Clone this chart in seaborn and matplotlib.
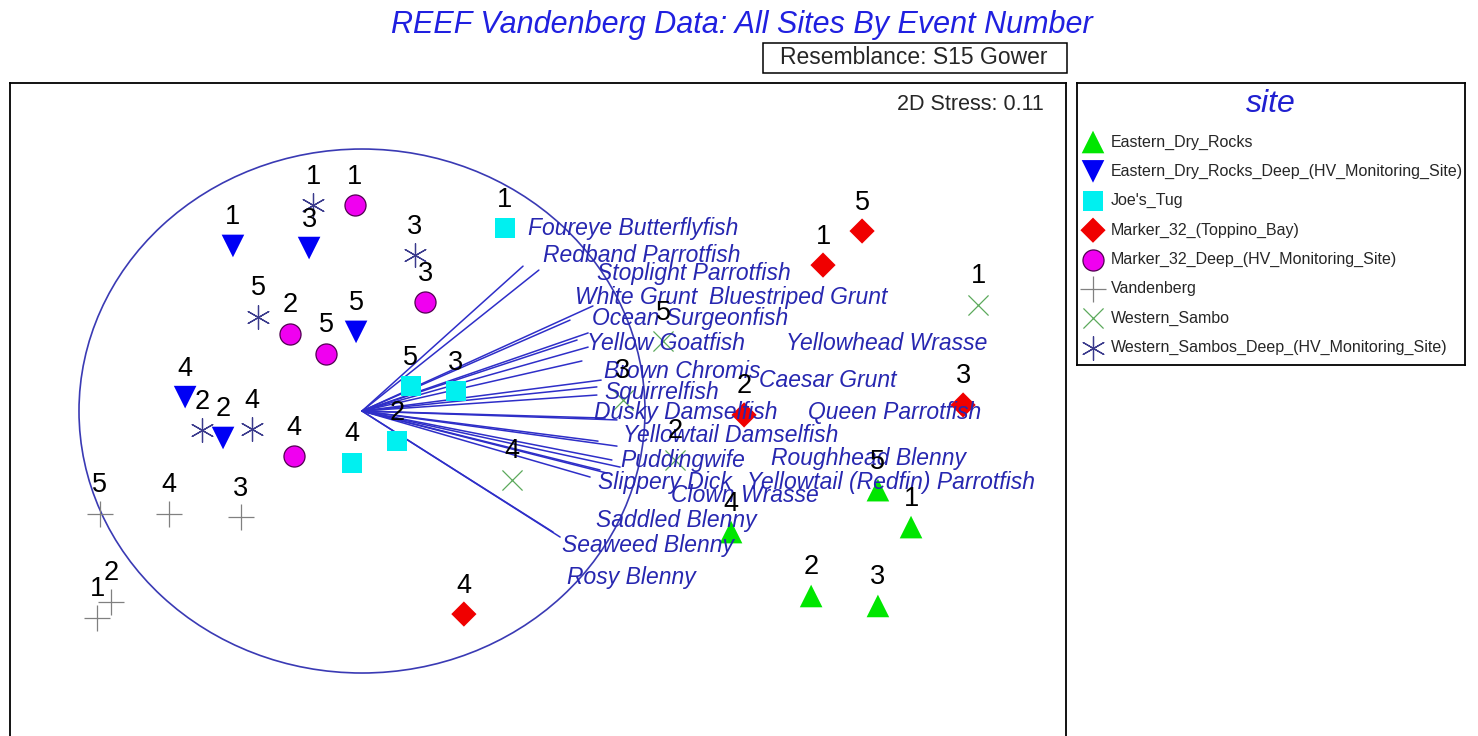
import numpy as np
import pandas as pd
import seaborn as sns
import matplotlib.pyplot as plt
from matplotlib.patches import Ellipse, Rectangle

# -------------------------
# data: nMDS coordinates per site, events 1..5
# -------------------------
events = [1, 2, 3, 4, 5]

edr_x = [1.940, 1.587, 1.823, 1.304, 1.823]
edr_y = [-0.443, -0.706, -0.744, -0.462, -0.302]

edr_deep_x = [-0.456, -0.491, -0.187, -0.625, -0.021]
edr_deep_y = [0.630, -0.103, 0.622, 0.053, 0.302]

joes_x = [0.505, 0.124, 0.332, -0.035, 0.173]
joes_y = [0.698, -0.115, 0.076, -0.198, 0.095]

m32_x = [1.629, 1.350, 2.124, 0.360, 1.767]
m32_y = [0.557, -0.015, 0.023, -0.775, 0.687]

m32_deep_x = [-0.025, -0.254, 0.223, -0.240, -0.127]
m32_deep_y = [0.786, 0.294, 0.416, -0.172, 0.218]

vand_x = [-0.936, -0.887, -0.428, -0.682, -0.926]
vand_y = [-0.790, -0.729, -0.405, -0.393, -0.393]

ws_x = [2.177, 1.106, 0.922, 0.530, 1.064]
ws_y = [0.405, -0.187, 0.042, -0.263, 0.267]

ws_deep_x = [-0.173, -0.565, 0.187, -0.389, -0.367]
ws_deep_y = [0.786, -0.073, 0.595, -0.069, 0.359]

sites = ['Eastern_Dry_Rocks', 'Eastern_Dry_Rocks_Deep_(HV_Monitoring_Site)', "Joe's_Tug",
         'Marker_32_(Toppino_Bay)', 'Marker_32_Deep_(HV_Monitoring_Site)', 'Vandenberg',
         'Western_Sambo', 'Western_Sambos_Deep_(HV_Monitoring_Site)']
site_x = [edr_x, edr_deep_x, joes_x, m32_x, m32_deep_x, vand_x, ws_x, ws_deep_x]
site_y = [edr_y, edr_deep_y, joes_y, m32_y, m32_deep_y, vand_y, ws_y, ws_deep_y]

# species vectors (end points) and where their labels sit
species = ['Foureye Butterflyfish', 'Redband Parrotfish', 'Stoplight Parrotfish', 'White Grunt',
           'Bluestriped Grunt', 'Ocean Surgeonfish', 'Yellow Goatfish', 'Yellowhead Wrasse',
           'Brown Chromis', 'Caesar Grunt', 'Squirrelfish', 'Dusky Damselfish', 'Queen Parrotfish',
           'Yellowtail Damselfish', 'Puddingwife', 'Roughhead Blenny', 'Slippery Dick',
           'Yellowtail (Redfin) Parrotfish', 'Clown Wrasse', 'Saddled Blenny', 'Seaweed Blenny',
           'Rosy Blenny']
vec_x = [0.569, 0.625, 0.816, 0.735, 0.799, 0.760, 0.799, 0.777, 0.845, 0.830, 0.830, 0.901,
         0.859, 0.834, 0.901, 0.912, 0.866, 0.806, 0.841, 0.883, 0.700, 0.675]
vec_y = [0.553, 0.538, 0.401, 0.347, 0.298, 0.271, 0.244, 0.191, 0.118, 0.092, 0.061, -0.034,
         -0.027, -0.115, -0.134, -0.214, -0.237, -0.252, -0.225, -0.187, -0.481, -0.462]
lab_x = [0.587, 0.640, 0.830, 0.753, 1.226, 0.813, 0.795, 1.498, 0.855, 1.403, 0.855, 0.820,
         1.576, 0.922, 0.912, 1.445, 0.834, 1.360, 1.092, 0.827, 0.707, 0.724]
lab_y = [0.698, 0.595, 0.523, 0.435, 0.435, 0.355, 0.256, 0.256, 0.149, 0.115, 0.069, -0.004,
         -0.004, -0.095, -0.187, -0.183, -0.271, -0.271, -0.324, -0.416, -0.515, -0.634]

rows = []
for site, xs, ys in zip(sites, site_x, site_y):
    for ev, x, y in zip(events, xs, ys):
        rows.append({'site': site, 'event': ev, 'MDS1': x, 'MDS2': y})
df = pd.DataFrame(rows)

# -------------------------
# styles
# -------------------------
estilos = {
    'Eastern_Dry_Rocks': dict(marker='^', color='#00e600', s=265, edgecolor='none'),
    'Eastern_Dry_Rocks_Deep_(HV_Monitoring_Site)': dict(marker='v', color='#0000f5', s=265, edgecolor='none'),
    "Joe's_Tug": dict(marker='s', color='#00f0f0', s=205, edgecolor='none'),
    'Marker_32_(Toppino_Bay)': dict(marker='D', color='#f00000', s=165, edgecolor='none'),
    'Marker_32_Deep_(HV_Monitoring_Site)': dict(marker='o', color='#f000f0', s=230,
                                                edgecolor='#500050', linewidth=0.9),
    'Vandenberg': dict(marker='+', color='#808080', s=360, linewidth=0.9),
    'Western_Sambo': dict(marker='x', color='#5caa5c', s=210, linewidth=0.9),
    'Western_Sambos_Deep_(HV_Monitoring_Site)': dict(marker=(6, 2, 0), color='#3a3a8c', s=290, linewidth=0.9),
}

sns.set_style("white")
plt.rcParams['font.family'] = ['Liberation Sans', 'DejaVu Sans']

W, H = 1478, 736
fig = plt.figure(figsize=(W / 100, H / 100), dpi=100)
ax = fig.add_axes([10 / W, -24 / H, 1056 / W, 677 / H])

# vectors + circle
for vx, vy in zip(vec_x, vec_y):
    ax.plot([0, vx], [0, vy], color='#2e2ec8', lw=1.1, zorder=2)
ax.add_patch(Ellipse((0, 0), 2, 2, fill=False, ec='#3a3ab4', lw=1.2, zorder=2))

# points
for site in sites:
    sub = df[df['site'] == site]
    sns.scatterplot(data=sub, x='MDS1', y='MDS2', ax=ax, legend=False, zorder=3, **estilos[site])
    for _, r in sub.iterrows():
        ax.annotate(str(r['event']), (r['MDS1'], r['MDS2']), xytext=(0, 15.5),
                    textcoords='offset points', ha='center', va='baseline',
                    fontsize=19.5, color='black', zorder=5)

for name, lx, ly in zip(species, lab_x, lab_y):
    ax.text(lx, ly, name, ha='left', va='center', fontsize=16.5, style='italic',
            color='#2727b0', zorder=4)

ax.set_xlim(-1.2438, 2.4876)
ax.set_ylim(-1.332, 1.252)
ax.set_xticks([])
ax.set_yticks([])
ax.set_xlabel('')
ax.set_ylabel('')
for sp in ax.spines.values():
    sp.set_color('black')
    sp.set_linewidth(1.3)

# titles / annotations
fig.text(742 / W, 1 - 25 / H, 'REEF Vandenberg Data: All Sites By Event Number',
         ha='center', va='center', fontsize=22, style='italic', color='#2020e0')
fig.patches.append(Rectangle((763 / W, 1 - 73 / H), 304 / W, 30 / H, transform=fig.transFigure,
                             fill=False, ec='black', lw=1.1))
fig.text(914 / W, 1 - 58 / H, 'Resemblance: S15 Gower', ha='center', va='center', fontsize=16.5)
fig.text(1044 / W, 1 - 104 / H, '2D Stress: 0.11', ha='right', va='center', fontsize=15.5)

# legend box
lax = fig.add_axes([1077 / W, 1 - 365 / H, 388 / W, 282 / H])
lax.set_xlim(0, 388)
lax.set_ylim(282, 0)
lax.set_xticks([])
lax.set_yticks([])
for sp in lax.spines.values():
    sp.set_color('black')
    sp.set_linewidth(1.3)
lax.text(194, 21, 'site', ha='center', va='center', fontsize=23, style='italic', color='#2020d0')
for i, site in enumerate(sites):
    yy = 59 + i * 29.4
    st = dict(estilos[site])
    lax.scatter([16], [yy], marker=st.pop('marker'), c=st.pop('color'), s=st.pop('s'), **st)
    lax.text(34, yy, site, ha='left', va='center', fontsize=11.5, clip_on=True)

fig.savefig('out.png', dpi=100)
